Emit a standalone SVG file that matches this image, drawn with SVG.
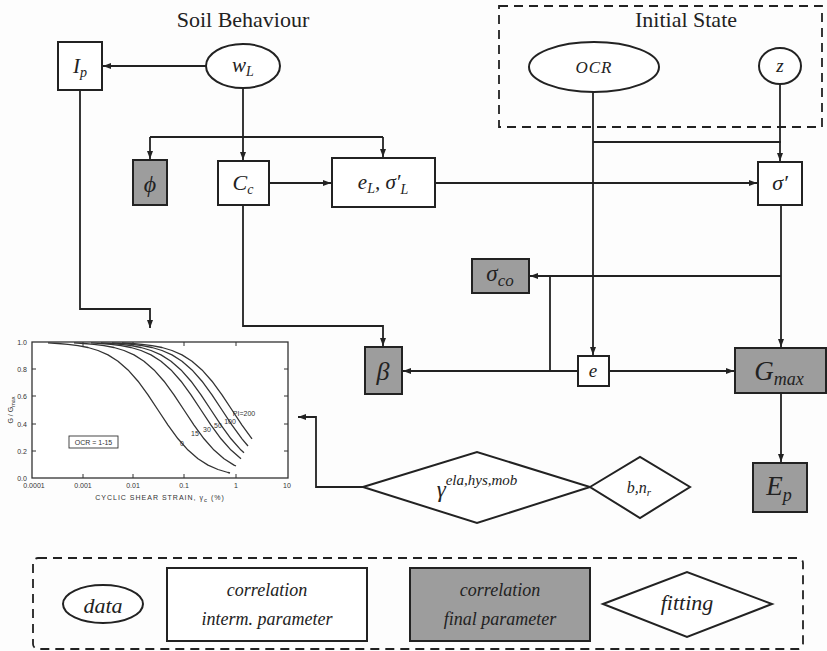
<svg xmlns="http://www.w3.org/2000/svg" width="827" height="651" viewBox="0 0 827 651">
<style>
.ln{fill:none;stroke:#222;stroke-width:1.8}
.nd{fill:#fff;stroke:#222;stroke-width:2}
.gr{fill:#9d9d9d;stroke:#222;stroke-width:2}
.dash{fill:none;stroke:#222;stroke-width:1.8;stroke-dasharray:9,6}
.m{font-style:italic;fill:#222;text-anchor:middle}
.t{fill:#222;text-anchor:middle}
.ch{font-family:'Liberation Sans',sans-serif;fill:#333;font-size:7px;text-anchor:middle}
.cv{fill:none;stroke:#333;stroke-width:1.3;stroke-linejoin:round}
</style>
<defs>
<marker id="ah" markerUnits="userSpaceOnUse" markerWidth="9" markerHeight="7" refX="8" refY="3" orient="auto">
<path d="M0,0 L8,3 L0,6 z" fill="#222"/>
</marker>
</defs>
<rect width="827" height="651" fill="#fdfdfd"/>

<g font-family="Liberation Serif, DejaVu Serif, serif">
<g id="titles">
<text class="t" x="243" y="27" font-size="22">Soil Behaviour</text>
<rect class="dash" x="499" y="6" width="323" height="121"/>
<text class="t" x="686" y="27" font-size="22">Initial State</text>
</g>

<g id="connectors" class="ln">
<line x1="206" y1="66" x2="103" y2="66" marker-end="url(#ah)"/>
<line x1="243" y1="88" x2="243" y2="137"/>
<line x1="150" y1="137" x2="383" y2="137"/>
<line x1="150" y1="137" x2="150" y2="159" marker-end="url(#ah)"/>
<line x1="243" y1="137" x2="243" y2="160" marker-end="url(#ah)"/>
<line x1="383" y1="137" x2="383" y2="157" marker-end="url(#ah)"/>
<line x1="269" y1="183" x2="331" y2="183" marker-end="url(#ah)"/>
<line x1="435" y1="183" x2="757" y2="183" marker-end="url(#ah)"/>
<line x1="593" y1="92" x2="593" y2="355" marker-end="url(#ah)"/>
<polyline points="593,142 781,142"/>
<line x1="780" y1="84" x2="780" y2="161" marker-end="url(#ah)"/>
<line x1="781" y1="205" x2="781" y2="347" marker-end="url(#ah)"/>
<line x1="781" y1="276" x2="530" y2="276" marker-end="url(#ah)"/>
<line x1="578" y1="371" x2="403" y2="371" marker-end="url(#ah)"/>
<line x1="550" y1="371" x2="550" y2="276"/>
<line x1="609" y1="371" x2="734" y2="371" marker-end="url(#ah)"/>
<line x1="781" y1="393" x2="781" y2="462" marker-end="url(#ah)"/>
<polyline points="243,205 243,326 383,326 383,346" marker-end="url(#ah)"/>
<polyline points="80,90 80,309 150,309 150,328" marker-end="url(#ah)"/>
<polyline points="363,487 316,487 316,417 298,417" marker-end="url(#ah)"/>
</g>

<g id="Ip"><rect class="nd" x="58" y="42" width="44" height="48"/>
<text class="m" x="80" y="73" font-size="21">I<tspan font-size="14" dy="4">p</tspan></text></g>

<g id="wL"><ellipse class="nd" cx="243" cy="66" rx="37" ry="22"/>
<text class="m" x="243" y="72" font-size="21">w<tspan font-size="14" dy="4">L</tspan></text></g>

<g id="OCR"><ellipse class="nd" cx="594" cy="67" rx="65" ry="25"/>
<text class="m" x="594" y="73" font-size="17" letter-spacing="1">OCR</text></g>

<g id="z"><ellipse class="nd" cx="780" cy="66" rx="21" ry="18"/>
<text class="m" x="780" y="72" font-size="19">z</text></g>

<g id="phi"><rect class="gr" x="133" y="160" width="34" height="45"/>
<text class="m" x="150" y="192" font-size="24">ϕ</text></g>

<g id="Cc"><rect class="nd" x="218" y="161" width="51" height="44"/>
<text class="m" x="243" y="190" font-size="22">C<tspan font-size="14" dy="4">c</tspan></text></g>

<g id="eL"><rect class="nd" x="332" y="158" width="103" height="49"/>
<text class="m" x="383" y="189" font-size="21">e<tspan font-size="14" dy="4">L</tspan><tspan dy="-4">, σ′</tspan><tspan font-size="14" dy="5">L</tspan></text></g>

<g id="sigma"><rect class="nd" x="758" y="162" width="44" height="43"/>
<text class="m" x="780" y="190" font-size="22">σ′</text></g>

<g id="sigmaco"><rect class="gr" x="472" y="259" width="57" height="34"/>
<text class="m" x="500" y="281" font-size="23">σ<tspan font-size="17" dy="5">co</tspan></text></g>

<g id="beta"><rect class="gr" x="365" y="347" width="37" height="47"/>
<text class="m" x="383" y="380" font-size="26">β</text></g>

<g id="e"><rect class="nd" x="578" y="356" width="31" height="30"/>
<text class="m" x="593" y="377" font-size="19">e</text></g>

<g id="Gmax"><rect class="gr" x="735" y="348" width="91" height="45"/>
<text class="m" x="779" y="380" font-size="27">G<tspan font-size="18" dy="5">max</tspan></text></g>

<g id="Ep"><rect class="gr" x="753" y="463" width="54" height="49"/>
<text class="m" x="779" y="495" font-size="27">E<tspan font-size="18" dy="6">p</tspan></text></g>

<g id="gamma"><polygon class="nd" points="363,487 477,452 590,487 477,523"/>
<text class="m" x="477" y="497" font-size="23">γ<tspan font-size="15" dy="-12">ela,hys,mob</tspan></text></g>

<g id="bnr"><polygon class="nd" points="590,487 640,457 690,487 640,518"/>
<text class="m" x="639" y="493" font-size="16">b,n<tspan font-size="11" dy="3">r</tspan></text></g>

<g id="legend">
<rect class="dash" x="33" y="558" width="770" height="91" rx="5"/>
<g id="leg-data"><ellipse class="nd" cx="103" cy="604" rx="40" ry="19"/>
<text class="m" x="103" y="613" font-size="22">data</text></g>
<g id="leg-interm"><rect class="nd" x="167" y="568" width="200" height="73"/>
<text class="m" x="267" y="596" font-size="18">correlation</text>
<text class="m" x="267" y="625" font-size="18">interm. parameter</text></g>
<g id="leg-final"><rect class="gr" x="410" y="568" width="180" height="73"/>
<text class="m" x="500" y="596" font-size="18">correlation</text>
<text class="m" x="500" y="625" font-size="18">final parameter</text></g>
<g id="leg-fitting"><polygon class="nd" points="603,604 687,572 772,604 687,637"/>
<text class="m" x="687" y="610" font-size="22">fitting</text></g>
</g>
</g>

<g id="chart">
<rect x="32" y="342" width="256" height="136" fill="#fff" stroke="#333" stroke-width="1.3"/>
<g stroke="#333" stroke-width="1">
<line x1="83" y1="478" x2="83" y2="474"/><line x1="133" y1="478" x2="133" y2="474"/><line x1="184" y1="478" x2="184" y2="474"/><line x1="236" y1="478" x2="236" y2="474"/>
<line x1="83" y1="342" x2="83" y2="346"/><line x1="133" y1="342" x2="133" y2="346"/><line x1="184" y1="342" x2="184" y2="346"/><line x1="236" y1="342" x2="236" y2="346"/>
<line x1="32" y1="369" x2="36" y2="369"/><line x1="32" y1="396" x2="36" y2="396"/><line x1="32" y1="424" x2="36" y2="424"/><line x1="32" y1="451" x2="36" y2="451"/>
<line x1="288" y1="369" x2="284" y2="369"/><line x1="288" y1="396" x2="284" y2="396"/><line x1="288" y1="424" x2="284" y2="424"/><line x1="288" y1="451" x2="284" y2="451"/>
</g>
<text class="ch" x="22" y="345">1.0</text>
<text class="ch" x="22" y="372">0.8</text>
<text class="ch" x="22" y="399">0.6</text>
<text class="ch" x="22" y="427">0.4</text>
<text class="ch" x="22" y="454">0.2</text>
<text class="ch" x="22" y="481">0.0</text>
<text class="ch" x="34" y="488">0.0001</text>
<text class="ch" x="83" y="488">0.001</text>
<text class="ch" x="133" y="488">0.01</text>
<text class="ch" x="184" y="488">0.1</text>
<text class="ch" x="236" y="488">1</text>
<text class="ch" x="287" y="488">10</text>
<text class="ch" x="160" y="500" font-size="8.5" letter-spacing="1">CYCLIC SHEAR STRAIN, γ<tspan font-size="6" dy="2">c</tspan><tspan dy="-2"> (%)</tspan></text>
<text class="ch" transform="translate(13,410) rotate(-90)" font-size="7.5">G / G<tspan font-size="5.5" dy="1.5">max</tspan></text>
<rect x="69" y="436" width="49" height="12" fill="none" stroke="#333" stroke-width="0.9"/>
<text class="ch" x="93.5" y="445" font-size="8">OCR = 1-15</text>
<polyline class="cv" points="48,342.9 58,343.5 68,344.3 78,345.6 88,347.5 98,350.5 108,354.9 118,361.2 128,369.9 138,381.2 148,394.9 158,410 168,425.1 178,438.8 188,450.1 198,458.8 208,465.1 218,469.5 228,472.5 230,473"/>
<polyline class="cv" points="74,342.9 84,343.5 94,344.3 104,345.6 114,347.5 124,350.5 134,354.9 144,361.2 154,369.9 164,381.2 174,394.9 184,410 194,425.1 204,438.8 214,450.1 224,458.8 234,465.1 236,466"/>
<polyline class="cv" points="91,342.9 101,343.5 111,344.3 121,345.6 131,347.5 141,350.5 151,354.9 161,361.2 171,369.9 181,381.2 191,394.9 201,410 211,425.1 221,438.8 231,450.1 241,458.8"/>
<polyline class="cv" points="101,342.9 111,343.5 121,344.3 131,345.6 141,347.5 151,350.5 161,354.9 171,361.2 181,369.9 191,381.2 201,394.9 211,410 221,425.1 231,438.8 241,450.1 244,452.8"/>
<polyline class="cv" points="112,342.9 122,343.5 132,344.3 142,345.6 152,347.5 162,350.5 172,354.9 182,361.2 192,369.9 202,381.2 212,394.9 222,410 232,425.1 242,438.8 248,446"/>
<polyline class="cv" points="122,342.9 132,343.5 142,344.3 152,345.6 162,347.5 172,350.5 182,354.9 192,361.2 202,369.9 212,381.2 222,394.9 232,410 242,425.1 252,438.8"/>
<text class="ch" x="182" y="446" font-size="8">0</text>
<text class="ch" x="195" y="436" font-size="8">15</text>
<text class="ch" x="207" y="432" font-size="8">30</text>
<text class="ch" x="218" y="428" font-size="8">50</text>
<text class="ch" x="230" y="424" font-size="8">100</text>
<text class="ch" x="244" y="416" font-size="8">PI=200</text>
</g>
</svg>
